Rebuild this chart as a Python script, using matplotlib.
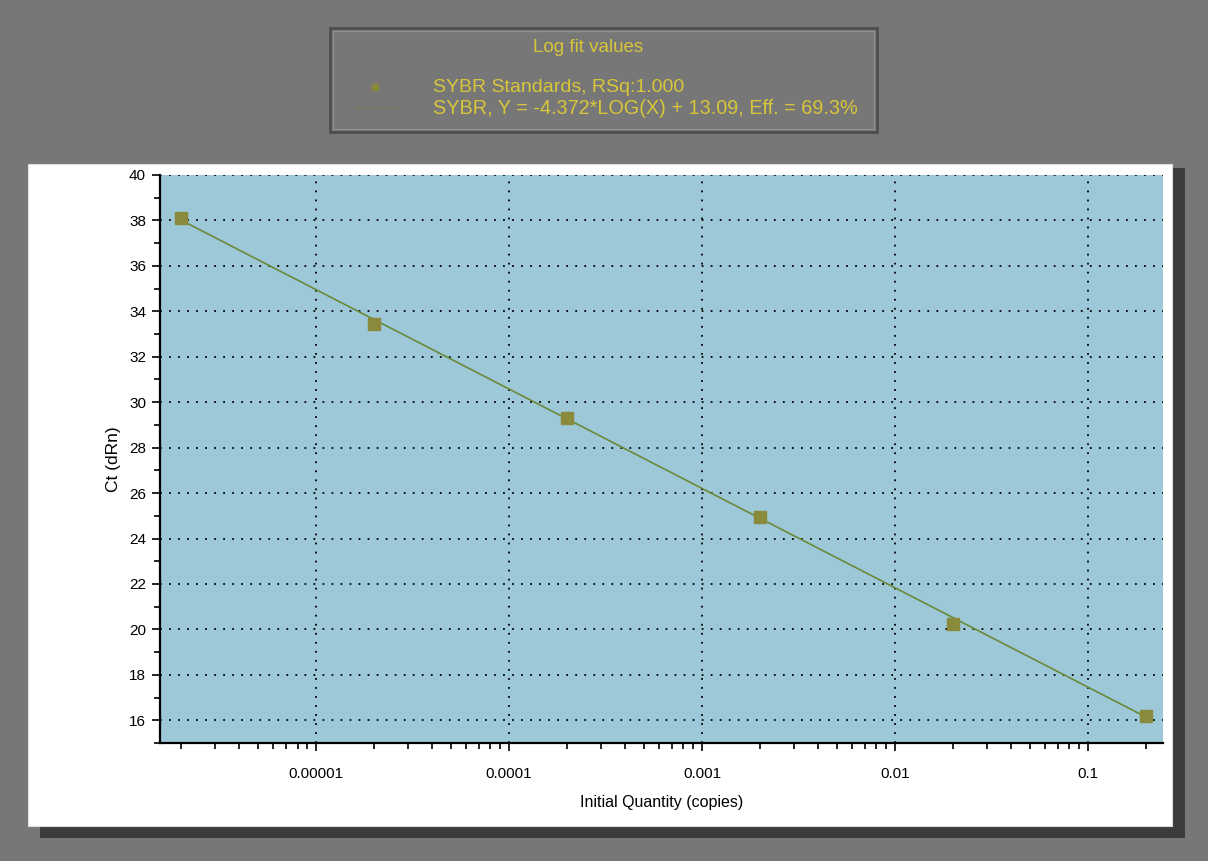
import matplotlib
matplotlib.use("Agg")
import matplotlib.pyplot as plt
import numpy as np
from matplotlib.patches import Rectangle
from matplotlib.lines import Line2D
from matplotlib.ticker import FixedLocator, LogLocator, NullFormatter, MultipleLocator

plt.rcParams['font.family'] = ['Liberation Sans', 'DejaVu Sans']

# data
quantity = [2e-6, 2e-5, 2e-4, 2e-3, 2e-2, 2e-1]
ct_values = [38.1, 33.45, 29.3, 24.95, 20.25, 16.2]
slope = -4.372
intercept = 13.09
x_ticks = [1e-5, 1e-4, 1e-3, 1e-2, 1e-1]
x_ticklabels = ["0.00001", "0.0001", "0.001", "0.01", "0.1"]
y_ticks = list(range(16, 41, 2))

legend_title = "Log fit values"
legend_labels = ["SYBR Standards, RSq:1.000",
                 "SYBR, Y = -4.372*LOG(X) + 13.09, Eff. = 69.3%"]

BG = "#777777"
PLOT_BG = "#9dc8d8"
MARKER = "#8a8a3c"
LINE = "#6a8a3a"
YELLOW = "#d8c63a"

W, H = 1208, 861
fig = plt.figure(figsize=(W / 100, H / 100), dpi=100, facecolor=BG)

def fx(px):
    return px / W

def fy(py):
    return 1 - py / H

# white panel with drop shadow
fig.patches.append(Rectangle((fx(40), fy(838)), fx(1145), 670 / H,
                             transform=fig.transFigure, facecolor="#3c3c3c",
                             edgecolor="none", zorder=0))
fig.patches.append(Rectangle((fx(28), fy(826)), fx(1144), 662 / H,
                             transform=fig.transFigure, facecolor="white",
                             edgecolor="#dddddd", lw=0.8, zorder=0))

# legend box
fig.patches.append(Rectangle((fx(330), fy(132)), fx(547), 104 / H,
                             transform=fig.transFigure, facecolor=BG,
                             edgecolor="#4e4e4e", lw=2, zorder=1))
fig.patches.append(Rectangle((fx(333), fy(129)), fx(541), 98 / H,
                             transform=fig.transFigure, facecolor="none",
                             edgecolor="#8e8e8e", lw=1, zorder=1))
fig.text(fx(588), fy(48), legend_title, color=YELLOW, fontsize=13.5,
         ha="center", va="center")
fig.lines.append(Line2D([fx(375)], [fy(87)], transform=fig.transFigure,
                        marker="s", markersize=5, color=MARKER, ls="none"))
fig.lines.append(Line2D([fx(355), fx(400)], [fy(108), fy(108)],
                        transform=fig.transFigure, color=LINE, lw=0.8, alpha=0.6))
fig.text(fx(433), fy(87), legend_labels[0], color=YELLOW, fontsize=14,
         ha="left", va="center")
fig.text(fx(433), fy(108), legend_labels[1], color=YELLOW, fontsize=14.3,
         ha="left", va="center")

ax = fig.add_axes([fx(160), fy(743), fx(1163) - fx(160), (743 - 175) / H])
ax.set_zorder(3)
ax.set_facecolor(PLOT_BG)

fit_y = [slope * np.log10(q) + intercept for q in quantity]
ax.plot(quantity, fit_y, color=LINE, lw=1.2, zorder=3)
ax.plot(quantity, ct_values, ls="none", marker="s", markersize=9,
        color=MARKER, markeredgecolor=MARKER, zorder=4)

ax.set_xscale("log")
ax.set_xlim(10 ** -5.81, 10 ** -0.61)
ax.set_ylim(15, 40)

ax.xaxis.set_major_locator(FixedLocator(x_ticks))
ax.set_xticklabels(x_ticklabels)
ax.xaxis.set_minor_locator(LogLocator(base=10, subs=np.arange(2, 10), numticks=20))
ax.xaxis.set_minor_formatter(NullFormatter())
ax.yaxis.set_major_locator(FixedLocator(y_ticks))
ax.yaxis.set_minor_locator(MultipleLocator(1))

ax.tick_params(axis="both", which="major", direction="out", length=6,
               width=1.2, labelsize=11, colors="black", pad=4)
ax.tick_params(axis="both", which="minor", direction="out", length=4, width=1.2)
ax.tick_params(axis="x", which="major", pad=11)

ax.grid(True, which="major", color="black", ls=(0, (1, 4)), lw=1.3)
ax.set_axisbelow(True)

for s in ["top", "right"]:
    ax.spines[s].set_visible(False)
for s in ["left", "bottom"]:
    ax.spines[s].set_linewidth(1.6)

ax.set_xlabel("Initial Quantity (copies)", fontsize=11.5, labelpad=10)
ax.set_ylabel("Ct (dRn)", fontsize=12.5, labelpad=6)

fig.savefig("out.png", dpi=100, facecolor=BG)
